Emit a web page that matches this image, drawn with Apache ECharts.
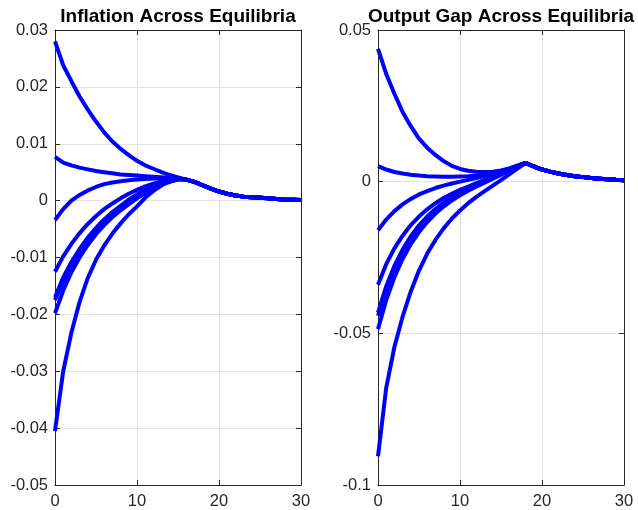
<!DOCTYPE html>
<html>
<head>
<meta charset="utf-8">
<script src="https://cdn.jsdelivr.net/npm/echarts@6/dist/echarts.min.js"></script>
<style>
html,body{margin:0;padding:0;background:#fff;}
#chart{width:638px;height:510px;}
</style>
</head>
<body>
<div id="chart"></div>
<script>
// Horizon (periods)
var periods = [0,1,2,3,4,5,6,7,8,9,10,11,12,13,14,15,16,17,18,19,20,21,22,23,24,25,26,27,28,29,30];

// Inflation across equilibria
var infl1 = [0.0280,0.0238,0.0210,0.0183,0.0160,0.0139,0.0120,0.0104,0.0091,0.0080,0.0070,0.0062,0.0056,0.0050,0.0045,0.0041,0.0037,0.0033,0.0027,0.0021,0.0016,0.0012,0.0009,0.0007,0.0006,0.0005,0.0004,0.0003,0.0002,0.00015,0.0001];
var infl2 = [0.0077,0.0067,0.0062,0.0058,0.0055,0.0052,0.0050,0.0048,0.0046,0.0045,0.0044,0.0043,0.0042,0.0041,0.0040,0.0039,0.0037,0.0033,0.0027,0.0021,0.0016,0.0012,0.0009,0.0007,0.0006,0.0005,0.0004,0.0003,0.0002,0.00015,0.0001];
var infl3 = [-0.0034,-0.0015,0.0000,0.0010,0.0018,0.0024,0.0029,0.0032,0.0034,0.0036,0.0037,0.0038,0.0039,0.0039,0.0039,0.0039,0.0037,0.0033,0.0027,0.0021,0.0016,0.0012,0.0009,0.0007,0.0006,0.0005,0.0004,0.0003,0.0002,0.00015,0.0001];
var infl4 = [-0.0125,-0.0098,-0.0076,-0.0057,-0.0041,-0.0027,-0.0015,-0.0005,0.0004,0.0012,0.0019,0.0025,0.0030,0.0034,0.0037,0.0039,0.0037,0.0033,0.0027,0.0021,0.0016,0.0012,0.0009,0.0007,0.0006,0.0005,0.0004,0.0003,0.0002,0.00015,0.0001];
var infl5 = [-0.0170,-0.0135,-0.0108,-0.0085,-0.0065,-0.0048,-0.0033,-0.0020,-0.0009,0.0002,0.0011,0.0019,0.0026,0.0032,0.0036,0.0038,0.0037,0.0033,0.0027,0.0021,0.0016,0.0012,0.0009,0.0007,0.0006,0.0005,0.0004,0.0003,0.0002,0.00015,0.0001];
var infl6 = [-0.0175,-0.0142,-0.0114,-0.0090,-0.0070,-0.0052,-0.0037,-0.0024,-0.0012,-0.0002,0.0008,0.0017,0.0024,0.0030,0.0035,0.0038,0.0037,0.0033,0.0027,0.0021,0.0016,0.0012,0.0009,0.0007,0.0006,0.0005,0.0004,0.0003,0.0002,0.00015,0.0001];
var infl7 = [-0.0198,-0.0158,-0.0126,-0.0100,-0.0078,-0.0059,-0.0043,-0.0029,-0.0017,-0.0006,0.0004,0.0013,0.0021,0.0028,0.0033,0.0037,0.0037,0.0033,0.0027,0.0021,0.0016,0.0012,0.0009,0.0007,0.0006,0.0005,0.0004,0.0003,0.0002,0.00015,0.0001];
var infl8 = [-0.0405,-0.0300,-0.0232,-0.0178,-0.0136,-0.0104,-0.0079,-0.0058,-0.0040,-0.0024,-0.0010,0.0005,0.0017,0.0027,0.0034,0.0038,0.0037,0.0033,0.0027,0.0021,0.0016,0.0012,0.0009,0.0007,0.0006,0.0005,0.0004,0.0003,0.0002,0.00015,0.0001];

// Output gap across equilibria
var gap1 = [0.0438,0.0355,0.0290,0.0230,0.0183,0.0142,0.0112,0.0088,0.0068,0.0052,0.0042,0.0036,0.0033,0.0032,0.0033,0.0037,0.0044,0.0053,0.0062,0.0050,0.0040,0.0033,0.0027,0.0022,0.0018,0.0015,0.0012,0.0010,0.0008,0.0006,0.0005];
var gap2 = [0.0051,0.0040,0.0032,0.0027,0.0023,0.0020,0.0018,0.0017,0.0016,0.0016,0.0017,0.0018,0.0020,0.0023,0.0028,0.0034,0.0042,0.0052,0.0062,0.0050,0.0040,0.0033,0.0027,0.0022,0.0018,0.0015,0.0012,0.0010,0.0008,0.0006,0.0005];
var gap3 = [-0.0160,-0.0125,-0.0097,-0.0075,-0.0057,-0.0042,-0.0031,-0.0021,-0.0013,-0.0006,0.0000,0.0006,0.0012,0.0019,0.0026,0.0034,0.0042,0.0052,0.0062,0.0050,0.0040,0.0033,0.0027,0.0022,0.0018,0.0015,0.0012,0.0010,0.0008,0.0006,0.0005];
var gap4 = [-0.0340,-0.0272,-0.0220,-0.0178,-0.0143,-0.0115,-0.0091,-0.0071,-0.0054,-0.0040,-0.0027,-0.0016,-0.0005,0.0006,0.0017,0.0029,0.0040,0.0051,0.0062,0.0050,0.0040,0.0033,0.0027,0.0022,0.0018,0.0015,0.0012,0.0010,0.0008,0.0006,0.0005];
var gap5 = [-0.0432,-0.0345,-0.0278,-0.0224,-0.0180,-0.0144,-0.0115,-0.0090,-0.0069,-0.0051,-0.0036,-0.0022,-0.0009,0.0004,0.0016,0.0028,0.0039,0.0050,0.0061,0.0050,0.0040,0.0033,0.0027,0.0022,0.0018,0.0015,0.0012,0.0010,0.0008,0.0006,0.0005];
var gap6 = [-0.0442,-0.0355,-0.0286,-0.0231,-0.0186,-0.0149,-0.0119,-0.0094,-0.0072,-0.0054,-0.0038,-0.0024,-0.0011,0.0002,0.0014,0.0027,0.0038,0.0050,0.0061,0.0050,0.0040,0.0033,0.0027,0.0022,0.0018,0.0015,0.0012,0.0010,0.0008,0.0006,0.0005];
var gap7 = [-0.0486,-0.0390,-0.0315,-0.0255,-0.0206,-0.0166,-0.0133,-0.0105,-0.0082,-0.0062,-0.0045,-0.0030,-0.0016,-0.0003,0.0010,0.0023,0.0036,0.0049,0.0061,0.0050,0.0040,0.0033,0.0027,0.0022,0.0018,0.0015,0.0012,0.0010,0.0008,0.0006,0.0005];
var gap8 = [-0.0905,-0.0680,-0.0545,-0.0445,-0.0362,-0.0293,-0.0237,-0.0192,-0.0154,-0.0122,-0.0095,-0.0071,-0.0050,-0.0031,-0.0013,0.0005,0.0024,0.0043,0.0062,0.0050,0.0040,0.0033,0.0027,0.0022,0.0018,0.0015,0.0012,0.0010,0.0008,0.0006,0.0005];

var inflSeries = [infl1,infl2,infl3,infl4,infl5,infl6,infl7,infl8];
var gapSeries = [gap1,gap2,gap3,gap4,gap5,gap6,gap7,gap8];

var titles = ['Inflation Across Equilibria','Output Gap Across Equilibria'];
var xTicks = {min:0, max:30, interval:10};
var yInfl = {min:-0.05, max:0.03, interval:0.01};
var yGap = {min:-0.1, max:0.05, interval:0.05};

var FONT = 'Liberation Sans, Arial, Helvetica, sans-serif';
var AX = '#262626';
var GRIDC = '#e3e3e3';

function pairs(v){ return v.map(function(y,i){ return [periods[i], y]; }); }

var grids = [
  {left:55, right:337, top:30, bottom:24},
  {left:378, right:14, top:30, bottom:24}
];

var xAxes = [], yAxes = [];
[0,1].forEach(function(g){
  xAxes.push({
    type:'value', gridIndex:g, min:xTicks.min, max:xTicks.max, interval:xTicks.interval,
    position:'bottom',
    axisLine:{show:true, onZero:false, lineStyle:{color:AX, width:1}},
    axisTick:{show:true, inside:true, length:5, lineStyle:{color:AX}},
    axisLabel:{show:true, color:AX, fontSize:16.5, fontFamily:FONT, margin:8},
    splitLine:{show:true, lineStyle:{color:GRIDC, width:1}}
  });
  xAxes.push({
    type:'value', gridIndex:g, min:xTicks.min, max:xTicks.max, interval:xTicks.interval,
    position:'top',
    axisLine:{show:true, onZero:false, lineStyle:{color:AX, width:1}},
    axisTick:{show:true, inside:true, length:5, lineStyle:{color:AX}},
    axisLabel:{show:false},
    splitLine:{show:false}
  });
  var yr = g===0 ? yInfl : yGap;
  yAxes.push({
    type:'value', gridIndex:g, min:yr.min, max:yr.max, interval:yr.interval,
    position:'left',
    axisLine:{show:true, onZero:false, lineStyle:{color:AX, width:1}},
    axisTick:{show:true, inside:true, length:5, lineStyle:{color:AX}},
    axisLabel:{show:true, color:AX, fontSize:16.5, fontFamily:FONT, margin:7},
    splitLine:{show:true, lineStyle:{color:GRIDC, width:1}}
  });
  yAxes.push({
    type:'value', gridIndex:g, min:yr.min, max:yr.max, interval:yr.interval,
    position:'right',
    axisLine:{show:true, onZero:false, lineStyle:{color:AX, width:1}},
    axisTick:{show:true, inside:true, length:5, lineStyle:{color:AX}},
    axisLabel:{show:false},
    splitLine:{show:false}
  });
});

var series = [];
inflSeries.forEach(function(s){
  series.push({type:'line', xAxisIndex:0, yAxisIndex:0, data:pairs(s), showSymbol:false, symbol:'none',
    lineStyle:{color:'#0000ff', width:4}, silent:true, animation:false});
});
gapSeries.forEach(function(s){
  series.push({type:'line', xAxisIndex:2, yAxisIndex:2, data:pairs(s), showSymbol:false, symbol:'none',
    lineStyle:{color:'#0000ff', width:4}, silent:true, animation:false});
});

var chart = echarts.init(document.getElementById('chart'), null, {renderer:'canvas'});
chart.setOption({
  animation:false,
  backgroundColor:'#ffffff',
  title:[
    {text:titles[0], left:173, top:2, textAlign:'center',
     textStyle:{fontFamily:FONT, fontWeight:'bold', fontSize:19, color:'#000'}},
    {text:titles[1], left:496, top:2, textAlign:'center',
     textStyle:{fontFamily:FONT, fontWeight:'bold', fontSize:19, color:'#000'}}
  ],
  grid:grids,
  xAxis:xAxes,
  yAxis:yAxes,
  series:series
});
</script>
</body>
</html>
